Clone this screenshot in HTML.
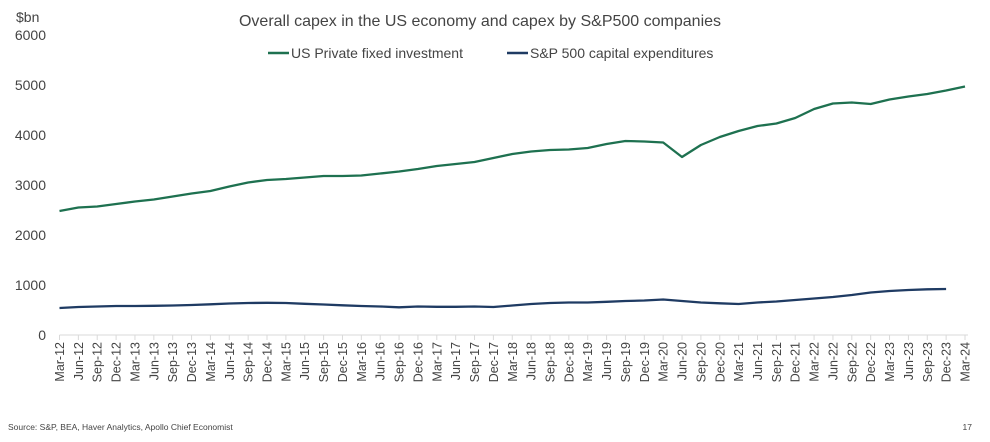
<!DOCTYPE html>
<html><head><meta charset="utf-8"><style>
body{margin:0;background:#fff;font-family:"Liberation Sans",sans-serif;}
svg text{font-family:"Liberation Sans",sans-serif;}
</style></head><body>
<svg id="c" width="990" height="437">
<text x="480" y="26" text-anchor="middle" font-size="16" fill="#444">Overall capex in the US economy and capex by S&amp;P500 companies</text>
<text x="16" y="22" font-size="14" fill="#444">$bn</text>
<g>
<g><line x1="268" y1="53" x2="289" y2="53" stroke="#1e7150" stroke-width="2.5"/><text x="291" y="58" font-size="14" fill="#444">US Private fixed investment</text></g>
<g><line x1="507" y1="53" x2="528" y2="53" stroke="#1f3b63" stroke-width="2.5"/><text x="530" y="58" font-size="14" fill="#444">S&amp;P 500 capital expenditures</text></g>
</g>
<g id="yax"></g><g id="xax"></g><g id="series"></g>
<text x="8" y="430" font-size="8.5" fill="#444">Source: S&amp;P, BEA, Haver Analytics, Apollo Chief Economist</text>
<text x="972" y="430" font-size="8.5" fill="#444" text-anchor="end">17</text>
</svg>
<script>
const categories=[];
const yTicks=[0,1000,2000,3000,4000,5000,6000];
const usPrivate=[2480,2550,2570,2620,2670,2710,2770,2830,2880,2970,3050,3100,3120,3150,3180,3180,3190,3230,3270,3320,3380,3420,3460,3540,3620,3670,3700,3710,3740,3820,3880,3870,3850,3560,3800,3960,4080,4180,4230,4340,4520,4630,4650,4620,4710,4770,4820,4890,4970];
const sp500=[540,560,570,580,580,585,590,600,615,630,640,645,640,625,610,595,580,570,555,570,565,565,570,560,590,620,640,650,650,665,680,690,710,680,650,635,620,650,670,700,730,760,800,850,880,900,915,920,null];
const months=["Mar","Jun","Sep","Dec"];
for(let i=0;i<49;i++){categories.push(months[i%4]+"-"+(12+Math.floor(i/4)));}
const NS="http://www.w3.org/2000/svg";
const x0=59.5,x1=965,y0=335,y1=35,ymax=6000;
const xs=i=>x0+i*(x1-x0)/(categories.length-1);
const ys=v=>y0-(v/ymax)*(y0-y1);
function mk(t,a,p){const e=document.createElementNS(NS,t);for(const k in a)e.setAttribute(k,a[k]);p.appendChild(e);return e;}
const yax=document.getElementById('yax'),xax=document.getElementById('xax'),ser=document.getElementById('series');
yTicks.forEach(v=>{const t=mk('text',{x:46,y:ys(v)+5,'text-anchor':'end','font-size':14,fill:'#444'},yax);t.textContent=v;

});
const ax=mk('line',{x1:x0,y1:y0,x2:x1+3,y2:y0,stroke:'#d9d9d9','stroke-width':1},xax);


categories.forEach((c,i)=>{const x=xs(i);
mk('line',{x1:x,y1:y0,x2:x,y2:y0+5,stroke:'#d9d9d9'},xax);
const t=mk('text',{x:0,y:0,transform:`translate(${x+4.5},${y0+7}) rotate(-90)`,'text-anchor':'end','font-size':12.5,fill:'#444'},xax);t.textContent=c;

});
function line(data,color,name){let d='';data.forEach((v,i)=>{if(v==null)return;d+=(d?'L':'M')+xs(i).toFixed(1)+','+ys(v).toFixed(1);});
const p=mk('path',{d:d,fill:'none',stroke:color,'stroke-width':2.3,'stroke-linejoin':'round'},ser);

}
line(usPrivate,'#1e7150','us-private-fixed-investment-line');
line(sp500,'#1f3b63','sp500-capex-line');
</script>
</body></html>
